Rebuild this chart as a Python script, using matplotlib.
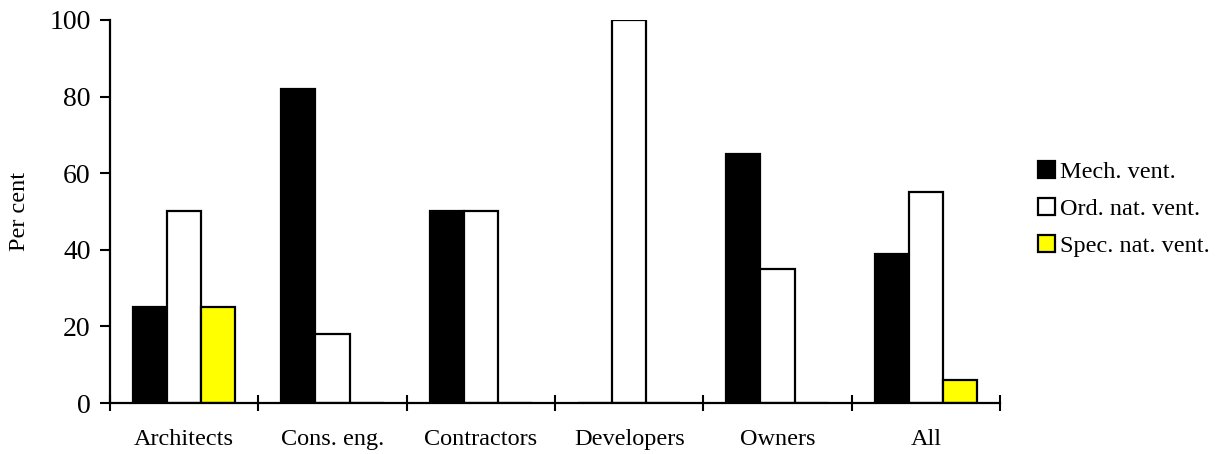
import numpy as np
import matplotlib
matplotlib.use("Agg")
import matplotlib.pyplot as plt

plt.rcParams['font.family'] = ['Liberation Serif', 'DejaVu Serif']

# survey responses by group (per cent)
groups = ["Architects", "Cons. eng.", "Contractors", "Developers", "Owners", "All"]
mech_vent = [25, 82, 50, 0, 65, 39]
ord_nat_vent = [50, 18, 50, 100, 35, 55]
spec_nat_vent = [25, 0, 0, 0, 0, 6]
series_names = ["Mech. vent.", "Ord. nat. vent.", "Spec. nat. vent."]

fig = plt.figure(figsize=(12.29, 4.54), dpi=100)
ax = fig.add_axes([0.0895, 0.1123, 0.7242, 0.8437])

x = np.arange(len(groups))
w = 0.23
colors = ["black", "white", "#ffff00"]
for i, (vals, name, c) in enumerate(zip([mech_vent, ord_nat_vent, spec_nat_vent], series_names, colors)):
    ax.bar(x + (i - 1) * w, vals, width=w, color=c, edgecolor="black",
           linewidth=1.6, label=name, zorder=2)

ax.set_xlim(-0.5, len(groups) - 0.5)
ax.set_ylim(0, 100)
ax.set_yticks(range(0, 101, 20))
ax.tick_params(axis='y', direction='out', length=7, width=1.5, labelsize=20, pad=7)

# boundary ticks between groups, labels at group centres
ax.set_xticks(np.arange(len(groups) + 1) - 0.5)
ax.set_xticklabels([])
ax.tick_params(axis='x', which='major', direction='inout', length=12, width=1.5)
ax.set_xticks(x, minor=True)
ax.set_xticklabels(groups, minor=True)
ax.tick_params(axis='x', which='minor', length=0, labelsize=17.5, pad=19)

for s in ["top", "right"]:
    ax.spines[s].set_visible(False)
for s in ["left", "bottom"]:
    ax.spines[s].set_linewidth(1.6)

ax.set_ylabel("Per cent", fontsize=17.5)
ax.yaxis.set_label_coords(-0.09, 0.5)

fig.legend(loc="center left", bbox_to_anchor=(1038 / 1229, 1 - 209 / 454),
           frameon=False, fontsize=17.5, handlelength=0.7, handleheight=0.7,
           handletextpad=0.2, labelspacing=0.62, borderpad=0, borderaxespad=0)

fig.savefig("out.png", dpi=100)
